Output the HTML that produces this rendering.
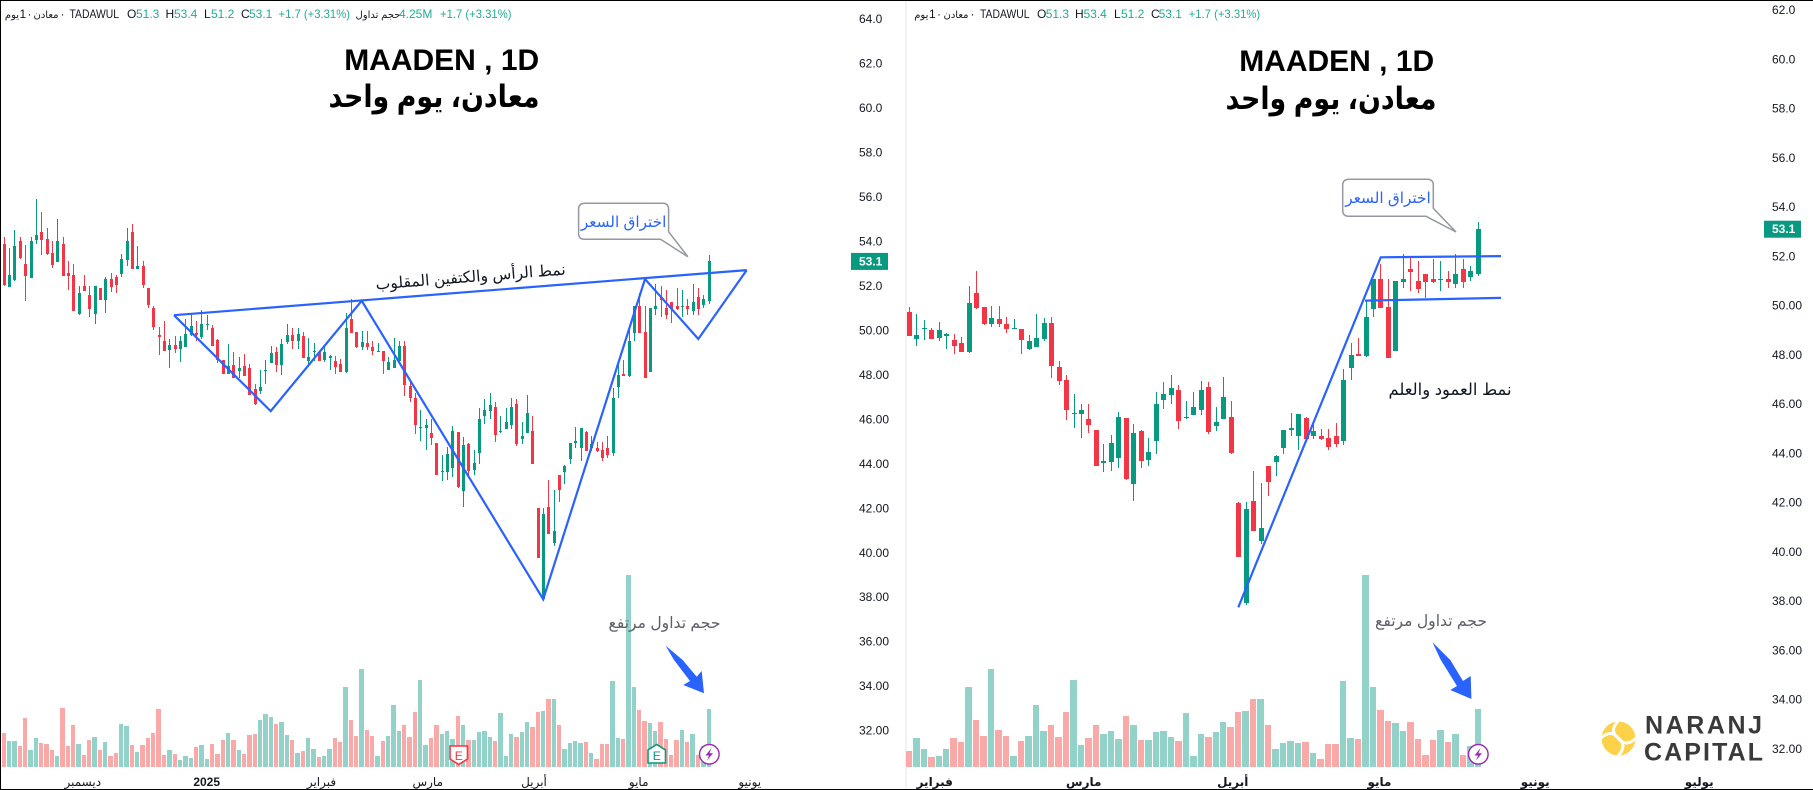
<!DOCTYPE html>
<html lang="ar">
<head>
<meta charset="utf-8">
<title>MAADEN 1D</title>
<style>
html,body{margin:0;padding:0;background:#fff}
svg{display:block}
text{font-family:"Liberation Sans","DejaVu Sans",sans-serif}
</style>
</head>
<body>
<svg id="chart" xmlns="http://www.w3.org/2000/svg" width="1813" height="790" viewBox="0 0 1813 790">
  <rect x="0" y="0" width="1813" height="790" fill="#ffffff"/>
  <rect x="905" y="1" width="2" height="788" fill="#f0f3fa"/>
  <g id="left-marks"></g>
  <g id="right-marks"></g>

  <g font-size="12" fill="#131722">
    <text x="12" y="18" text-anchor="middle" font-size="10">يوم</text>
    <text x="19.5" y="18">1</text>
    <text x="27.5" y="18">·</text>
    <text x="46" y="18" text-anchor="middle" font-size="10">معادن</text>
    <text x="60.5" y="18">·</text>
    <text x="69.5" y="18" textLength="49.5" lengthAdjust="spacingAndGlyphs">TADAWUL</text>
    <text x="127" y="18">O</text>
    <text x="136" y="18" fill="#22ab94">51.3</text>
    <text x="165.5" y="18">H</text>
    <text x="174" y="18" fill="#22ab94">53.4</text>
    <text x="204" y="18">L</text>
    <text x="211" y="18" fill="#22ab94">51.2</text>
    <text x="241" y="18">C</text>
    <text x="249" y="18" fill="#22ab94">53.1</text>
    <text x="278.5" y="18" fill="#22ab94" textLength="71.5" lengthAdjust="spacingAndGlyphs">+1.7 (+3.31%)</text>
    <text x="378" y="18" text-anchor="middle" font-size="10">حجم تداول</text>
    <text x="399" y="18" fill="#22ab94">4.25M</text>
    <text x="440" y="18" fill="#22ab94" textLength="71.5" lengthAdjust="spacingAndGlyphs">+1.7 (+3.31%)</text>
  </g>

  <g font-size="12" fill="#131722">
    <text x="921.3" y="18" text-anchor="middle" font-size="10">يوم</text>
    <text x="929" y="18">1</text>
    <text x="937" y="18">·</text>
    <text x="956" y="18" text-anchor="middle" font-size="10">معادن</text>
    <text x="970.5" y="18">·</text>
    <text x="980" y="18" textLength="49.5" lengthAdjust="spacingAndGlyphs">TADAWUL</text>
    <text x="1037" y="18">O</text>
    <text x="1045.7" y="18" fill="#22ab94">51.3</text>
    <text x="1075" y="18">H</text>
    <text x="1083.5" y="18" fill="#22ab94">53.4</text>
    <text x="1114" y="18">L</text>
    <text x="1121" y="18" fill="#22ab94">51.2</text>
    <text x="1151" y="18">C</text>
    <text x="1158.6" y="18" fill="#22ab94">53.1</text>
    <text x="1188.7" y="18" fill="#22ab94" textLength="71.5" lengthAdjust="spacingAndGlyphs">+1.7 (+3.31%)</text>
  </g>

  <text x="441.7" y="70" text-anchor="middle" font-size="30" font-weight="700" fill="#000">MAADEN , 1D</text>
  <text x="434" y="107" text-anchor="middle" font-size="31" font-weight="700" fill="#000" textLength="211" lengthAdjust="spacingAndGlyphs">معادن، يوم واحد</text>
  <text x="1336.7" y="71" text-anchor="middle" font-size="30" font-weight="700" fill="#000">MAADEN , 1D</text>
  <text x="1331" y="109" text-anchor="middle" font-size="31" font-weight="700" fill="#000" textLength="211" lengthAdjust="spacingAndGlyphs">معادن، يوم واحد</text>

  <path d="M585 203.3H662.6Q668.6 203.3 668.6 209.3V231.7L687.8 256.7L660.5 239.3H584.6Q578.6 239.3 578.6 233.3V209.3Q578.6 203.3 585 203.3Z" fill="#fff" stroke="#9598a1" stroke-width="1.5"/>
  <text x="623.6" y="227" text-anchor="middle" font-size="15.3" fill="#2962ff">اختراق السعر</text>
  <path d="M1349 179.3H1427.3Q1433.3 179.3 1433.3 185.3V208.3L1456 232L1426 216.3H1348.7Q1342.7 216.3 1342.7 210.3V185.3Q1342.7 179.3 1349 179.3Z" fill="#fff" stroke="#9598a1" stroke-width="1.5"/>
  <text x="1388" y="203" text-anchor="middle" font-size="15.3" fill="#2962ff">اختراق السعر</text>

  <text x="471" y="282" text-anchor="middle" font-size="15.6" fill="#131722" transform="rotate(-4.5 471 282)">نمط الرأس والكتفين المقلوب</text>
  <text x="1450" y="395" text-anchor="middle" font-size="16.4" fill="#131722">نمط العمود والعلم</text>
  <text x="664.5" y="628" text-anchor="middle" font-size="15.6" fill="#5d606b">حجم تداول مرتفع</text>
  <text x="1431" y="626" text-anchor="middle" font-size="15.6" fill="#5d606b">حجم تداول مرتفع</text>

  <polygon points="665.7,645.7 682.7,660 696.7,676.7 701.7,671 704,693.3 683.3,685 690,681 674,660" fill="#2962ff"/>
  <polygon points="1432.5,642.3 1450.3,660 1463,681 1470.7,676 1471.4,699 1450.3,690 1457,686 1440.8,660" fill="#2962ff"/>

  <g>
    <path d="M450 746H467.5V759L458.7 764.5L450 759Z" fill="#fff" stroke="#f23645" stroke-width="1.6"/>
    <text x="458.7" y="760" text-anchor="middle" font-size="12" fill="#f23645">E</text>
  </g>
  <g>
    <path d="M648 763H665.5V750L656.7 744.5L648 750Z" fill="#fff" stroke="#089981" stroke-width="1.6"/>
    <text x="656.7" y="760" text-anchor="middle" font-size="12" fill="#089981">E</text>
  </g>
  <g>
    <circle cx="709.3" cy="754.3" r="9.8" fill="#fff" stroke="#9c27b0" stroke-width="1.4"/>
    <path d="M711.5 748L705.5 755.5H709L707 760.5L713 753.2H709.5Z" fill="#9c27b0"/>
  </g>
  <g>
    <circle cx="1478.3" cy="754.3" r="9.8" fill="#fff" stroke="#9c27b0" stroke-width="1.4"/>
    <path d="M1480.5 748L1474.5 755.5H1478L1476 760.5L1482 753.2H1478.5Z" fill="#9c27b0"/>
  </g>

  <g>
    <circle cx="1618.5" cy="738.5" r="17" fill="#fdd24a"/>
    <path d="M1618 721Q1609 731 1618 738Q1628 745 1618 756M1601 738Q1611 729 1618 738Q1626 748 1636 738" fill="none" stroke="#fff" stroke-width="3"/>
    <text x="1645" y="733.5" font-size="25" font-weight="700" fill="#3a3a3a" textLength="117" lengthAdjust="spacing">NARANJ</text>
    <text x="1644" y="760.5" font-size="25" font-weight="700" fill="#3a3a3a" textLength="119" lengthAdjust="spacing">CAPITAL</text>
  </g>

  <rect x="0" y="0" width="1813" height="1" fill="#000"/>
  <rect x="0" y="0" width="1" height="790" fill="#000"/>
  <rect x="0" y="789" width="1813" height="1" fill="#000"/>
</svg>

<script>
const opens = [53.88,51.95,52.26,54.01,52.98,52.35,54.06,54.42,54.11,53.48,
53.07,53.88,52.58,52.49,50.73,51.99,51.58,50.73,51.9,51.36,
52.31,52.4,52.53,53.16,54.42,52.76,52.89,51.9,51.0,49.79,
49.52,49.11,49.34,49.16,49.25,49.79,49.88,49.7,50.24,50.1,
49.56,48.66,48.03,48.43,48.17,48.39,48.3,47.36,47.27,48.17,
48.53,49.02,48.43,49.47,49.79,49.52,
49.74,48.64,49.05,49.01,48.68,48.76,48.6,48.48,48.11,50.51,
49.94,49.25,49.45,49.25,49.05,49.05,48.24,48.32,48.64,49.29,
47.51,46.98,45.6,45.6,45.39,44.95,43.61,43.65,43.81,45.44,
42.76,44.91,43.73,44.5,46.17,46.37,46.57,45.44,45.56,45.76,
46.69,45.11,45.39,45.48,42.0,37.92,42.07,40.44,43.49,43.65,
44.22,44.95,44.7,45.43,44.7,44.7,44.62,44.7,44.5,47.46,
48.03,47.95,49.86,51.08,49.94,48.15,50.96,51.48,51.0,51.28,
51.08,51.04,51.08,50.88,51.48,51.16,51.3];
const highs = [54.2,53.7,54.51,54.2,53.84,54.2,55.91,55.32,54.6,54.01,
55.0,54.2,53.12,52.98,51.99,52.49,51.99,51.99,51.9,52.4,
52.58,52.49,53.43,54.6,54.78,53.79,53.12,51.9,51.09,50.15,
50.42,49.61,49.74,49.74,50.51,50.78,50.42,50.91,50.69,50.24,
49.61,48.66,49.38,49.02,48.8,48.93,48.48,47.58,48.21,48.66,
49.29,49.25,49.61,50.28,50.1,50.1,
49.94,49.66,49.41,49.09,49.33,48.89,48.85,48.72,50.79,51.4,
49.94,49.98,49.98,49.54,49.45,49.05,48.8,49.66,49.5,49.54,
47.75,47.18,46.41,46.0,46.0,44.95,44.38,44.74,45.68,45.44,
45.19,44.95,44.62,46.49,46.9,47.18,46.78,46.13,46.49,46.94,
46.9,45.88,47.1,46.13,42.01,42.02,43.28,42.8,43.49,43.93,
44.95,45.64,45.6,45.48,45.27,44.99,44.99,45.23,47.42,48.48,
48.68,50.19,51.08,51.69,51.08,50.99,52.09,52.01,51.81,51.28,
51.89,51.81,51.4,52.09,51.89,51.61,53.4];
const lows = [51.99,51.95,52.22,53.2,51.32,52.35,53.88,53.39,53.39,52.8,
53.07,52.44,51.81,50.87,50.68,51.77,50.6,50.28,51.36,50.78,
51.72,51.67,52.4,52.89,52.76,52.76,51.9,51.0,50.01,48.89,
49.07,48.3,48.98,48.57,49.25,49.74,49.52,49.61,50.01,49.29,
48.52,48.03,48.03,47.85,47.85,47.94,47.09,46.64,47.13,47.58,
48.53,48.12,47.99,49.38,49.16,49.16,
48.76,48.36,48.6,48.64,48.56,48.24,48.03,48.11,48.07,49.86,
49.21,49.13,49.13,48.89,49.05,48.03,48.2,48.32,48.56,47.06,
46.78,45.35,45.03,44.62,44.83,43.49,43.24,43.28,43.4,42.92,
42.08,43.4,43.49,43.97,45.8,46.0,44.99,45.39,45.56,45.56,
44.79,44.91,45.39,43.97,39.78,37.84,40.85,40.32,42.27,43.08,
43.97,44.7,44.14,44.58,44.58,44.54,44.14,44.26,44.34,46.98,
47.95,47.91,49.54,49.9,47.87,48.15,50.71,50.59,50.51,50.31,
50.92,50.59,50.71,50.71,50.71,51.0,51.2];
const closes = [52.03,52.49,53.79,53.25,52.44,54.01,54.29,54.06,53.43,52.94,
54.01,52.44,52.44,50.87,51.67,51.77,50.96,51.99,51.36,52.31,
51.95,52.03,53.2,54.01,52.76,52.89,52.03,51.14,50.15,49.7,
49.07,49.34,49.16,49.52,49.83,50.19,49.79,50.28,50.28,49.29,
48.66,48.03,48.39,47.85,48.3,47.94,47.09,46.68,47.45,48.21,
48.98,48.43,49.38,49.79,49.52,49.83,
48.76,48.8,49.09,48.64,49.01,48.85,48.36,48.11,50.1,49.9,
49.25,49.49,49.25,49.05,49.09,48.6,48.56,48.68,49.29,47.55,
46.94,45.76,45.64,45.76,45.15,43.49,43.69,44.42,45.48,42.96,
44.83,43.69,44.05,46.0,46.41,46.65,45.31,45.48,45.88,46.57,
44.87,45.27,46.29,44.01,39.78,41.74,40.85,40.97,42.84,43.89,
44.95,45.03,45.6,44.58,44.9,44.58,44.26,44.38,46.98,47.99,
47.95,49.54,51.08,49.9,47.87,50.99,51.08,51.36,50.67,50.96,
50.96,51.08,50.96,51.28,50.96,51.4,53.1];
const volumes = [2.5,1.91,1.91,1.55,3.61,1.25,2.14,1.77,1.69,1.25,
0.81,4.34,1.55,3.09,1.69,0.88,1.99,2.21,1.25,1.84,
0.81,1.03,3.17,3.02,1.62,1.1,1.62,2.14,2.5,4.27,
0.88,1.25,0.96,0.52,0.81,0.66,1.47,1.62,0.59,1.69,
0.96,1.99,2.5,1.99,1.25,0.96,2.36,2.43,3.46,3.9,
3.68,3.17,3.31,2.36,1.99,1.03,
1.18,2.14,1.33,0.74,0.81,1.33,2.14,1.84,5.89,3.46,
2.28,7.22,2.72,2.28,0.81,1.91,2.28,4.57,2.65,3.09,
2.21,4.05,6.41,1.62,2.14,3.09,2.43,2.65,2.06,3.76,
3.09,1.99,1.99,2.58,2.65,2.21,1.91,3.98,0.81,2.43,
2.21,2.58,3.31,2.95,4.05,4.12,5.01,5.01,3.09,1.33,
1.77,1.91,1.77,1.84,1.03,0.59,1.69,1.69,6.33,2.14,
2.06,14.14,5.89,4.2,3.39,3.24,2.65,3.31,2.06,0.88,
1.99,2.72,1.84,2.43,0.88,1.55,4.25];

const monthLabels = ["ديسمبر","2025","فبراير","مارس","أبريل","مايو","يونيو","يوليو"];
const monthBars = [14.7,37.9,59.4,79.3,99.2,118.8,139.6,161.5];

const leftPriceTicks = [64,62,60,58,56,54,52,50,48,46,44,42,40,38,36,34,32];
const rightPriceTicks = [62,60,58,56,54,52,50,48,46,44,42,40,38,36,34,32];

const headShouldersBars = [31.78,49.89,66.93,100.92,119.98,129.96,139.02];
const headShouldersPrices = [50.68,46.37,51.33,37.91,52.31,49.61,52.71];
const necklineBars = [31.78,139.02];
const necklinePrices = [50.68,52.71];
const poleBars = [99.94,118.96,135.03];
const polePrices = [37.75,51.96,52.01];
const flagBars = [116.87,135.03];
const flagPrices = [50.2,50.31];

const SVG_NS = "http://www.w3.org/2000/svg";
const GREEN = "#089981", RED = "#f23645", VOL_GREEN = "#93d2c9", VOL_RED = "#f8a9a8", BLUE = "#2962ff";
const VOLUME_BASE_Y = 767, VOLUME_PX_PER_M = 13.58;

const volumeY = v => VOLUME_BASE_Y - v * VOLUME_PX_PER_M;
const leftX = i => 4.3 + 5.34 * i;
const rightX = i => 909.3 + 7.487 * (i - 56);
const leftY = p => 19 + (64 - p) * 22.24;
const rightY = p => 10 + (62 - p) * 24.63;

function make(parent, tag, attrs) {
  const el = document.createElementNS(SVG_NS, tag);
  for (const k in attrs) el.setAttribute(k, attrs[k]);
  parent.appendChild(el);
  return el;
}

function drawPanel(parent, cfg) {
  const s = cfg.spacing;
  for (let i = cfg.first; i < opens.length; i++) {
    const up = closes[i] >= opens[i];
    const cx = cfg.x(i);
    const vl = Math.round(cx - s / 2), vr = Math.round(cx + s / 2) - 1;
    const vt = Math.round(volumeY(volumes[i]));
    const v = make(parent, "rect", {x: vl, y: vt, width: Math.max(1, vr - vl), height: VOLUME_BASE_Y - vt, fill: up ? VOL_GREEN : VOL_RED, "shape-rendering": "crispEdges"});
    
    
  }
  for (let i = cfg.first; i < opens.length; i++) {
    const up = closes[i] >= opens[i];
    const color = up ? GREEN : RED;
    const x0 = Math.round(cfg.x(i) - 0.5);
    const w = make(parent, "rect", {x: x0, y: Math.round(cfg.y(highs[i])), width: 1, height: Math.max(1, Math.round(cfg.y(lows[i])) - Math.round(cfg.y(highs[i]))), fill: color, "shape-rendering": "crispEdges"});
    
    
    const top = Math.round(cfg.y(Math.max(opens[i], closes[i])));
    const bot = Math.round(cfg.y(Math.min(opens[i], closes[i])));
    const b = make(parent, "rect", {x: x0 - cfg.bodyPad, y: top, width: cfg.bodyPad * 2 + 1, height: Math.max(1, bot - top), fill: color, "shape-rendering": "crispEdges"});
    
    
  }
  cfg.ticks.forEach(p => {
    const label = p >= 52 ? p.toFixed(1) : p.toFixed(2);
    const t = make(parent, "text", {x: cfg.axisX, y: cfg.y(p) + 4, "font-size": 12, fill: "#131722"});
    t.textContent = label;
    
    
  });
  monthLabels.forEach((m, k) => {
    if (monthBars[k] < cfg.monthMin || monthBars[k] > cfg.monthMax) return;
    const t = make(parent, "text", {x: cfg.x(monthBars[k]), y: 786, "text-anchor": "middle", "font-size": 12, fill: "#131722", "font-weight": (m === "2025" || cfg.boldMonths) ? 700 : 400});
    t.textContent = m;
    
    
  });
  const last = closes[closes.length - 1];
  const tagY = cfg.y(last);
  const r = make(parent, "rect", {x: cfg.axisX - 8, y: tagY - 8.5, width: 37, height: 17, fill: GREEN});
  
  
  const tt = make(parent, "text", {x: cfg.axisX, y: tagY + 4, "font-size": 12, fill: "#fff", "font-weight": 700});
  tt.textContent = last.toFixed(1);
  
  
}

function drawTrend(parent, bars, prices, xf, yf, name) {
  const pts = bars.map((b, i) => xf(b).toFixed(1) + "," + yf(prices[i]).toFixed(1)).join(" ");
  const l = make(parent, "polyline", {points: pts, fill: "none", stroke: BLUE, "stroke-width": 2.2, "stroke-linejoin": "miter"});
  
  
}

const leftGroup = document.getElementById("left-marks");
const rightGroup = document.getElementById("right-marks");

drawPanel(leftGroup, {first: 0, x: leftX, y: leftY, spacing: 5.34, bodyPad: 1, ticks: leftPriceTicks, axisX: 859, monthMin: 0, monthMax: 145, boldMonths: false});
drawPanel(rightGroup, {first: 56, x: rightX, y: rightY, spacing: 7.487, bodyPad: 2, ticks: rightPriceTicks, axisX: 1772, monthMin: 56, monthMax: 170, boldMonths: true});

drawTrend(leftGroup, necklineBars, necklinePrices, leftX, leftY, "neckline-trend-line");
drawTrend(leftGroup, headShouldersBars, headShouldersPrices, leftX, leftY, "head-shoulders-zigzag");
drawTrend(rightGroup, poleBars, polePrices, rightX, rightY, "flag-pole-and-upper-line");
drawTrend(rightGroup, flagBars, flagPrices, rightX, rightY, "flag-lower-line");
</script>
</body>
</html>
